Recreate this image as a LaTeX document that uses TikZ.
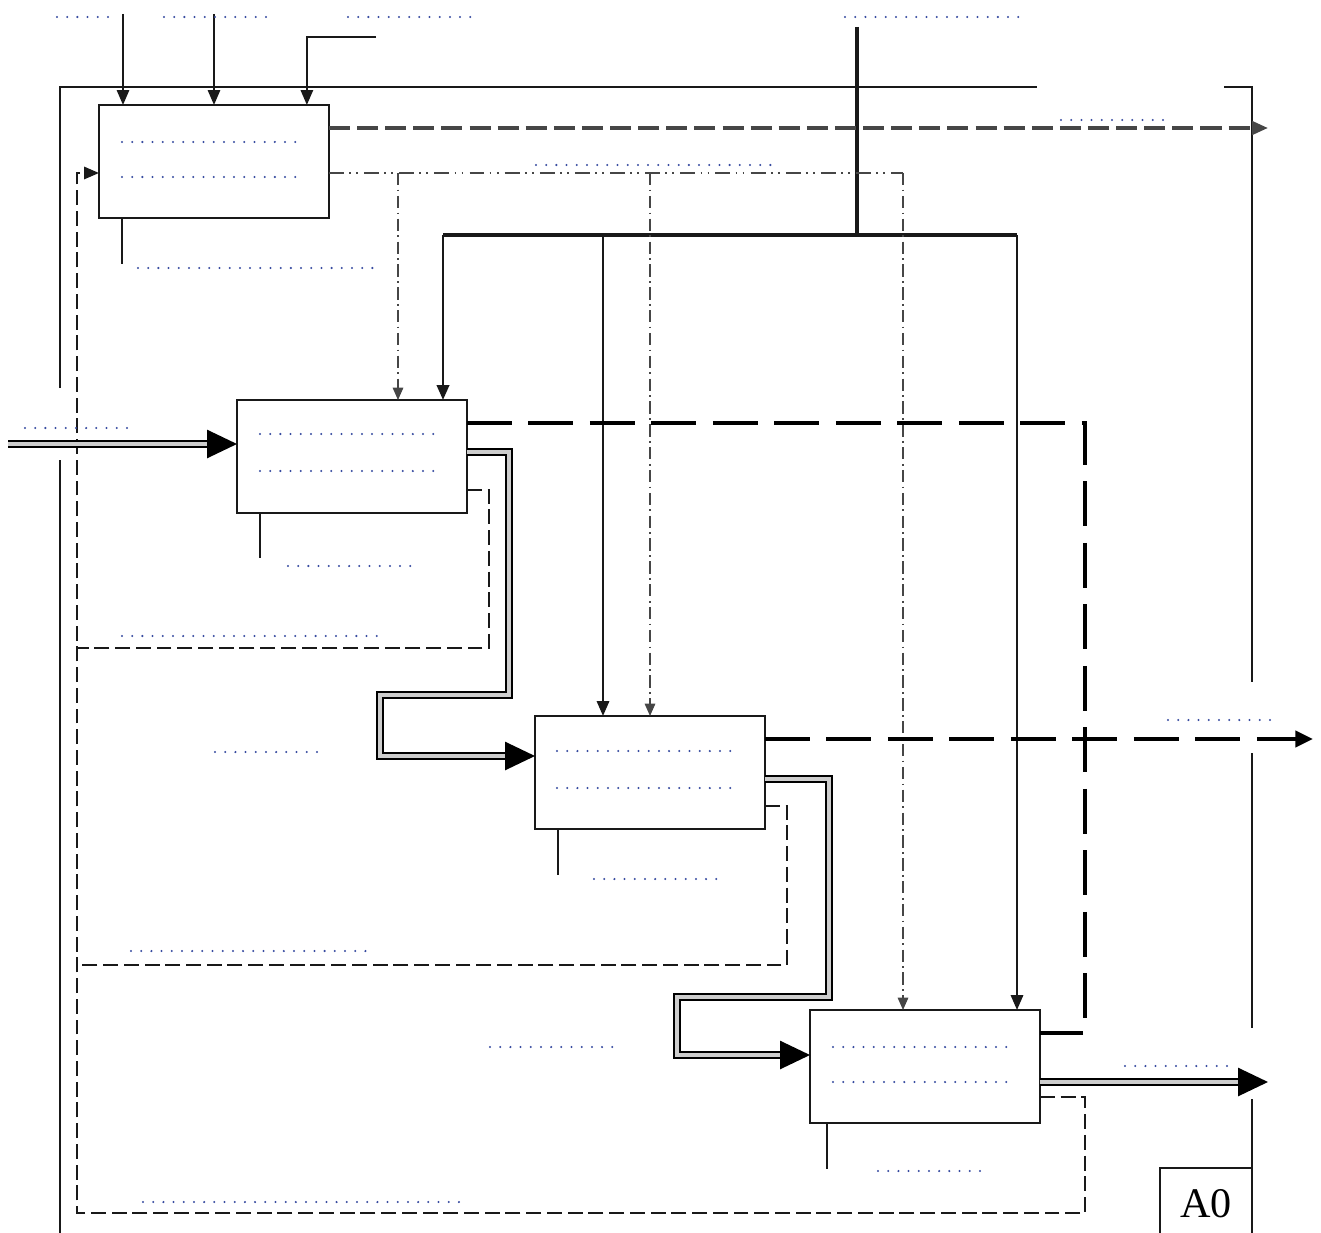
\documentclass[tikz,border=0pt]{standalone}
\usepackage{fontspec}
\setmainfont{Liberation Serif}
\usepackage{tikz}
\usetikzlibrary{arrows.meta, calc, positioning}
\definecolor{mydark}{RGB}{25,25,25}
\definecolor{mygray}{RGB}{70,70,70}
\definecolor{mydot}{RGB}{55,75,160}
\definecolor{mypipe}{RGB}{205,205,205}
\tikzset{
  func/.style={rectangle, draw=mydark, fill=white, line width=1.1pt,
    minimum width=4.6cm, minimum height=2.26cm, inner sep=0pt, outer sep=0pt,
    anchor=north west},
  frame/.style={line width=1.0pt, color=mydark},
  ctrl/.style={-{Triangle[length=8.5pt, width=7pt]}, line width=1.1pt, color=mydark},
  bus/.style={line width=1.8pt, color=mydark},
  mech/.style={line width=1.0pt, color=mydark},
  fillin/.style={line width=1.3pt, line cap=round, dash pattern=on 0pt off 5.8pt, color=mydot},
  grayout/.style={-{Triangle[length=9pt, width=7.5pt]}, line width=2pt, color=mygray,
    dash pattern=on 12pt off 4pt},
  heavyout/.style={line width=2.8pt, color=black, dash pattern=on 25.5pt off 9.5pt},
  heavyarrow/.style={heavyout, -{Triangle[length=10pt, width=9pt]}},
  dashdot/.style={line width=1.1pt, color=mygray,
    dash pattern=on 8.5pt off 3pt on 1pt off 3pt on 1pt off 3.5pt},
  dashdrop/.style={-{Triangle[length=7pt, width=6pt]}, line width=0.7pt, color=mygray,
    dash pattern=on 7pt off 2.5pt on 1pt off 2.5pt},
  feedback/.style={line width=1.2pt, color=mydark, dash pattern=on 8.5pt off 3.3pt},
  pipe/.style={line width=1.1pt, double=mypipe, double distance=2.2pt, color=black},
  pipearrow/.style={pipe, -{Triangle[length=17pt, width=16pt]}}
}

\begin{document}
\begin{tikzpicture}[x=0.02cm, y=-0.02cm]
  \useasboundingbox (0,0) rectangle (1321,1233);

  % Frame of the diagram
  \draw[frame] (60,388) -- (60,87) -- (1037,87);
  \draw[frame] (1224,87) -- (1252,87) -- (1252,682);
  \draw[frame] (1252,753) -- (1252,1028);
  \draw[frame] (1252,1099) -- (1252,1233);
  \draw[frame] (60,460) -- (60,1233);
  \draw[frame] (1160,1233) -- (1160,1168) -- (1252,1168);
  \node[font=\fontsize{24}{28}\selectfont] (tag) at (1206,1204) {A0};

  % Function blocks
  \node[func] (b1) at (99,105) {};
  \node[func] (b2) at (237,400) {};
  \node[func] (b3) at (535,716) {};
  \node[func] (b4) at (810,1010) {};

  % Free ends and bends
  \coordinate (ci1) at (123,14);
  \coordinate (ci2) at (214,14);
  \coordinate (ci3) at (376,37);
  \coordinate (cm) at (857,27);
  \coordinate (jc) at (857,235);
  \coordinate (d1) at (443,235);
  \coordinate (d2) at (603,235);
  \coordinate (d3) at (1017,235);
  \coordinate (t1) at (903,173);
  \coordinate (t2) at (398,173);
  \coordinate (t3) at (650,173);
  \coordinate (o1) at (1268,128);
  \coordinate (in2) at (8,444);
  \coordinate (h1) at (1085,423);
  \coordinate (h2) at (1085,1033);
  \coordinate (p1) at (509,452);
  \coordinate (p2) at (509,695);
  \coordinate (p3) at (380,695);
  \coordinate (p4) at (380,756);
  \coordinate (f1) at (489,490);
  \coordinate (f2) at (489,648);
  \coordinate (o3) at (1313,739);
  \coordinate (q1) at (829,779);
  \coordinate (q2) at (829,997);
  \coordinate (q3) at (677,997);
  \coordinate (q4) at (677,1055);
  \coordinate (g1) at (787,806);
  \coordinate (g2) at (787,965);
  \coordinate (o4) at (1268,1082);
  \coordinate (k1) at (1085,1097);
  \coordinate (fbL) at (77,1213);
  \coordinate (r1) at (77,173);
  \coordinate (m1) at (122,264);
  \coordinate (m2) at (260,558);
  \coordinate (m3) at (558,875);
  \coordinate (m4) at (827,1169);

  % Controls
  \draw[ctrl] (ci1) -- (ci1 |- b1.north);
  \draw[ctrl] (ci2) -- (ci2 |- b1.north);
  \draw[ctrl] (ci3) -| ($(b1.north west)!0.904!(b1.north east)$);
  \draw[bus] (cm) -- (jc);
  \draw[bus] (d1) -- (d3);
  \draw[ctrl, line width=1.6pt] (d1) -- (d1 |- b2.north);
  \draw[ctrl, line width=1.3pt] (d2) -- (d2 |- b3.north);
  \draw[ctrl, line width=1.3pt] (d3) -- (d3 |- b4.north);

  % Dash-dot output of the first block
  \draw[dashdot] (b1.east |- t1) -- (t1);
  \draw[dashdrop] (t2) -- (t2 |- b2.north);
  \draw[dashdrop] (t3) -- (t3 |- b3.north);
  \draw[dashdrop] (t1) -- (t1 |- b4.north);

  % Feedback returns
  \draw[feedback] (b2.east |- f1) -- (f1) -- (f2) -- (f2 -| fbL);
  \draw[feedback] (b3.east |- g1) -- (g1) -- (g2) -- (g2 -| fbL);
  \draw[feedback, -{Triangle[length=8.5pt, width=7pt]}]
    (b4.east |- k1) -- (k1) -- (k1 |- fbL) -- (fbL) -- (r1) -- (r1 -| b1.west);

  % Outputs
  \draw[grayout] (b1.east |- o1) -- (o1);
  \draw[heavyout] (b2.east |- h1) -- (h1) -- (h2) -- (h2 -| b4.east);
  \draw[heavyarrow] (b3.east |- o3) -- (o3);

  % Inputs and material flow
  \draw[pipearrow] (in2) -- (in2 -| b2.west);
  \draw[pipearrow] (b2.east |- p1) -- (p1) -- (p2) -- (p3) -- (p4) -- (p4 -| b3.west);
  \draw[pipearrow] (b3.east |- q1) -- (q1) -- (q2) -- (q3) -- (q4) -- (q4 -| b4.west);
  \draw[pipearrow] (b4.east |- o4) -- (o4);

  % Mechanisms
  \draw[mech] (m1 |- b1.south) -- (m1);
  \draw[mech] (m2 |- b2.south) -- (m2);
  \draw[mech] (m3 |- b3.south) -- (m3);
  \draw[mech] (m4 |- b4.south) -- (m4);

  % Blank fill-in lines
  \draw[fillin] (57,17) -- (113,17);
  \draw[fillin] (164,17) -- (267,17);
  \draw[fillin] (348,17) -- (480,17);
  \draw[fillin] (845,17) -- (1021,17);
  \draw[fillin] (122,142) -- (301,142);
  \draw[fillin] (122,177) -- (301,177);
  \draw[fillin] (138,268) -- (378,268);
  \draw[fillin] (1061,120) -- (1165,120);
  \draw[fillin] (536,165) -- (773,165);
  \draw[fillin] (25,428) -- (127,428);
  \draw[fillin] (260,434) -- (438,434);
  \draw[fillin] (260,471) -- (438,471);
  \draw[fillin] (288,566) -- (414,566);
  \draw[fillin] (122,636) -- (378,636);
  \draw[fillin] (215,752) -- (318,752);
  \draw[fillin] (557,751) -- (736,751);
  \draw[fillin] (557,788) -- (736,788);
  \draw[fillin] (594,879) -- (719,879);
  \draw[fillin] (1168,720) -- (1272,720);
  \draw[fillin] (131,951) -- (371,951);
  \draw[fillin] (490,1047) -- (622,1047);
  \draw[fillin] (833,1047) -- (1012,1047);
  \draw[fillin] (833,1082) -- (1012,1082);
  \draw[fillin] (878,1171) -- (981,1171);
  \draw[fillin] (1125,1066) -- (1227,1066);
  \draw[fillin] (143,1202) -- (467,1202);
\end{tikzpicture}
\end{document}
